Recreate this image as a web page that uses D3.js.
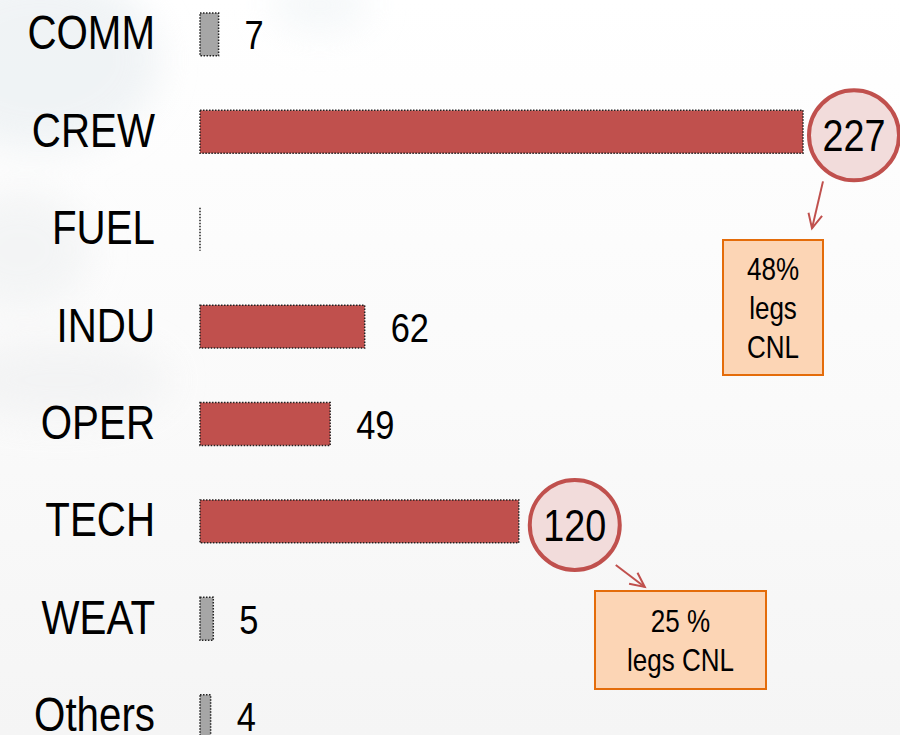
<!DOCTYPE html>
<html>
<head>
<meta charset="utf-8">
<script src="https://cdn.jsdelivr.net/npm/d3@7"></script>
<style>
  html, body { margin: 0; padding: 0; background: #fff; }
  svg { display: block; }
  text { font-family: "Liberation Sans", Arial, sans-serif; fill: #000; }
</style>
</head>
<body>
<div id="chart"></div>
<script>
// categories and counts
var categories = ["COMM", "CREW", "FUEL", "INDU", "OPER", "TECH", "WEAT", "Others"];
var counts = [7, 227, 0, 62, 49, 120, 5, 4];

// callouts: which bar gets a circle and what the box says
var calloutCats = ["CREW", "TECH"];
var calloutLines = [["48%", "legs", "CNL"], ["25 %", "legs CNL"]];

var width = 900, height = 735;
var narrow = 0.84; // squeeze text, the original font is a narrow one

var svg = d3.select("#chart")
	.append("svg")
	.attr("width", width)
	.attr("height", height);

var defs = svg.append("defs");

// soft background, white top right, grey-blue cloud on the left
var bg = defs.append("linearGradient")
	.attr("id", "bg")
	.attr("x1", "0").attr("y1", "0").attr("x2", "0").attr("y2", "1");
bg.append("stop").attr("offset", "0%").attr("stop-color", "#ffffff");
bg.append("stop").attr("offset", "55%").attr("stop-color", "#fafafa");
bg.append("stop").attr("offset", "100%").attr("stop-color", "#f5f5f5");

defs.append("filter").attr("id", "blur")
	.attr("x", "-50%").attr("y", "-50%").attr("width", "200%").attr("height", "200%")
	.append("feGaussianBlur").attr("stdDeviation", 18);

svg.append("rect")
	.attr("width", width)
	.attr("height", height)
	.attr("fill", "url(#bg)");

var clouds = svg.append("g").attr("filter", "url(#blur)").attr("opacity", 0.7);
clouds.append("ellipse").attr("cx", 40).attr("cy", 60).attr("rx", 120).attr("ry", 90).attr("fill", "#eaeff2");
clouds.append("ellipse").attr("cx", 320).attr("cy", 5).attr("rx", 50).attr("ry", 28).attr("fill", "#f1f5f7");
clouds.append("ellipse").attr("cx", 20).attr("cy", 250).attr("rx", 70).attr("ry", 60).attr("fill", "#f0f2f3");
clouds.append("ellipse").attr("cx", 60).attr("cy", 380).attr("rx", 110).attr("ry", 40).attr("fill", "#f0f1f2");

// scales
var x = d3.scaleLinear()
	.domain([0, 227])
	.range([200, 803]);

var y = d3.scaleBand()
	.domain(categories)
	.range([-14.3, -14.3 + 8 * 97.4])
	.paddingInner(0.56)
	.paddingOuter(0.28);

var data = categories.map(function(c, i) {
	return { cat: c, val: counts[i] };
});

function squeeze(tx, ty) {
	return "translate(" + tx + "," + ty + ") scale(" + narrow + ",1)";
}

// category labels
svg.selectAll(".cat")
	.data(data)
	.enter().append("text")
	.attr("class", "cat")
	.attr("transform", function(d) { return squeeze(155, y(d.cat) + y.bandwidth() / 2 + 15); })
	.attr("text-anchor", "end")
	.style("font-size", "48px")
	.text(function(d) { return d.cat; });

// bars
svg.selectAll(".bar")
	.data(data)
	.enter().append("rect")
	.attr("class", "bar")
	.attr("x", x(0))
	.attr("y", function(d) { return y(d.cat); })
	.attr("width", function(d) { return x(d.val) - x(0); })
	.attr("height", y.bandwidth())
	.style("fill", function(d) { return d.val >= 10 ? "#c0504d" : "#a6a6a6"; })
	.style("stroke", "#222")
	.style("stroke-width", 1.5)
	.style("stroke-dasharray", "1.5,1.5");

// zero bar: just a dotted baseline
svg.selectAll(".zero")
	.data(data.filter(function(d) { return d.val == 0; }))
	.enter().append("line")
	.attr("x1", x(0)).attr("x2", x(0))
	.attr("y1", function(d) { return y(d.cat); })
	.attr("y2", function(d) { return y(d.cat) + y.bandwidth(); })
	.style("stroke", "#222")
	.style("stroke-width", 1.5)
	.style("stroke-dasharray", "1.5,1.5");

// plain value labels
svg.selectAll(".val")
	.data(data.filter(function(d) { return d.val > 0 && calloutCats.indexOf(d.cat) < 0; }))
	.enter().append("text")
	.attr("class", "val")
	.attr("transform", function(d) { return squeeze(x(d.val) + 26, y(d.cat) + y.bandwidth() / 2 + 15); })
	.style("font-size", "41px")
	.text(function(d) { return d.val; });

// circled values + arrow + orange box
var arrowOff = [
	{ cx: 51, cy: 3.5, ax1: 20, ay1: 71, ax2: 9, ay2: 118, bx: 723, by: 240, bw: 100, bh: 135 },
	{ cx: 56, cy: 3.5, ax1: 97, ay1: 65, ax2: 126, ay2: 87, bx: 595, by: 591, bw: 171, bh: 98 }
];

calloutCats.forEach(function(c, i) {
	var v = counts[categories.indexOf(c)];
	var o = arrowOff[i];
	var cx = x(v) + o.cx;
	var cy = y(c) + y.bandwidth() / 2 + o.cy;

	svg.append("circle")
		.attr("cx", cx).attr("cy", cy).attr("r", 45)
		.style("fill", "#f2dcdb")
		.style("stroke", "#c0504d")
		.style("stroke-width", 4);

	svg.append("text")
		.attr("transform", squeeze(cx, cy + 16))
		.attr("text-anchor", "middle")
		.style("font-size", "45px")
		.text(v);

	// arrow
	var x1 = x(v) + o.ax1, y1 = y(c) + o.ay1;
	var x2 = x(v) + o.ax2, y2 = y(c) + o.ay2;
	var ang = Math.atan2(y2 - y1, x2 - x1);
	var hl = 16, hw = 0.45;
	var arrow = svg.append("g")
		.style("stroke", "#c0504d")
		.style("stroke-width", 2)
		.style("fill", "none");
	arrow.append("line").attr("x1", x1).attr("y1", y1).attr("x2", x2).attr("y2", y2);
	arrow.append("path")
		.attr("d", "M" + (x2 - hl * Math.cos(ang - hw)) + "," + (y2 - hl * Math.sin(ang - hw)) +
			"L" + x2 + "," + y2 +
			"L" + (x2 - hl * Math.cos(ang + hw)) + "," + (y2 - hl * Math.sin(ang + hw)));

	// box
	svg.append("rect")
		.attr("x", o.bx).attr("y", o.by)
		.attr("width", o.bw).attr("height", o.bh)
		.style("fill", "#fcd5b5")
		.style("stroke", "#e46c0a")
		.style("stroke-width", 2);

	var lines = calloutLines[i];
	var lh = 39;
	var top = o.by + o.bh / 2 - (lines.length - 1) * lh / 2 + 11;
	svg.selectAll(null)
		.data(lines)
		.enter().append("text")
		.attr("transform", function(d, k) { return squeeze(o.bx + o.bw / 2, top + k * lh); })
		.attr("text-anchor", "middle")
		.style("font-size", "31px")
		.text(function(d) { return d; });
});
</script>
</body>
</html>
